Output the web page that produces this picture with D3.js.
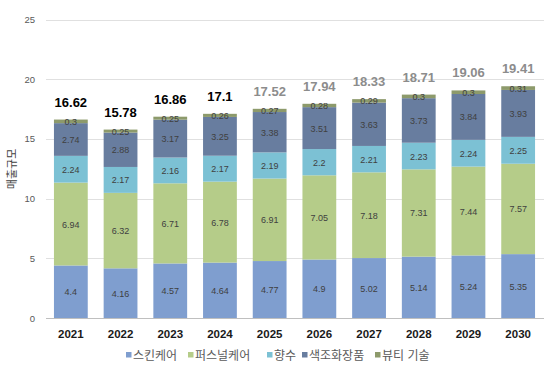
<!DOCTYPE html>
<html>
<head>
<meta charset="utf-8">
<script src="https://cdn.jsdelivr.net/npm/d3@7"></script>
<style>
  body { margin: 0; background: #fff; }
  svg { display: block; font-family: "Liberation Sans", Arial, "Noto Sans CJK KR", sans-serif; }
</style>
</head>
<body>
<div id="chart"></div>
<script>
// 데이터
const years = ["2021", "2022", "2023", "2024", "2025", "2026", "2027", "2028", "2029", "2030"];
const seriesNames = ["스킨케어", "퍼스널케어", "향수", "색조화장품", "뷰티 기술"];
const skincare = [4.4, 4.16, 4.57, 4.64, 4.77, 4.9, 5.02, 5.14, 5.24, 5.35];
const personalCare = [6.94, 6.32, 6.71, 6.78, 6.91, 7.05, 7.18, 7.31, 7.44, 7.57];
const fragrance = [2.24, 2.17, 2.16, 2.17, 2.19, 2.2, 2.21, 2.23, 2.24, 2.25];
const colorCosmetics = [2.74, 2.88, 3.17, 3.25, 3.38, 3.51, 3.63, 3.73, 3.84, 3.93];
const beautyTech = [0.3, 0.25, 0.25, 0.26, 0.27, 0.28, 0.29, 0.3, 0.3, 0.31];
const totals = [16.62, 15.78, 16.86, 17.1, 17.52, 17.94, 18.33, 18.71, 19.06, 19.41];
const forecastFrom = "2025"; // 전망치는 회색
const yTicks = [0, 5, 10, 15, 20, 25];

const colors = ["#7f9ecf", "#b5cc89", "#7cc1d4", "#687d9f", "#8d9a6b"];

const width = 547, height = 372;

const svg = d3.select("#chart").append("svg")
    .attr("width", width)
    .attr("height", height);

const x = d3.scaleBand()
    .domain(years)
    .range([46, 543])
    .paddingInner(0.32)
    .paddingOuter(0.16);

const y = d3.scaleLinear()
    .domain([0, 25])
    .range([318, 19.5]);

// 그리드
svg.append("g")
    .selectAll("line")
    .data(yTicks)
    .join("line")
    .attr("x1", 46).attr("x2", 544)
    .attr("y1", d => Math.round(y(d)) + 0.5)
    .attr("y2", d => Math.round(y(d)) + 0.5)
    .attr("stroke", d => d === 0 ? "#bfbfbf" : "#e0e0e0")
    .attr("stroke-width", 1);

// y축 라벨
svg.append("g")
    .selectAll("text")
    .data(yTicks)
    .join("text")
    .attr("x", 35)
    .attr("y", d => y(d) + 3.5)
    .attr("text-anchor", "end")
    .attr("font-size", 9.5)
    .attr("fill", "#595959")
    .text(d => d);

svg.append("text")
    .attr("transform", `translate(16,169) rotate(-90)`)
    .attr("text-anchor", "middle")
    .attr("font-size", 11)
    .attr("fill", "#404040")
    .text("매출규모");

// 스택 데이터
const rows = years.map((yr, i) => ({
    year: yr,
    "스킨케어": skincare[i],
    "퍼스널케어": personalCare[i],
    "향수": fragrance[i],
    "색조화장품": colorCosmetics[i],
    "뷰티 기술": beautyTech[i]
}));

const stacked = d3.stack().keys(seriesNames)(rows);

const layers = svg.append("g")
    .selectAll("g")
    .data(stacked)
    .join("g")
    .attr("fill", (d, i) => colors[i]);

layers.selectAll("rect")
    .data(d => d)
    .join("rect")
    .attr("x", d => x(d.data.year))
    .attr("width", x.bandwidth())
    .attr("y", d => y(d[1]))
    .attr("height", d => y(d[0]) - y(d[1]));

// 값 라벨
const labels = svg.append("g")
    .attr("font-size", 9)
    .attr("fill", "#404040")
    .attr("text-anchor", "middle");

stacked.forEach(layer => {
    labels.selectAll(null)
        .data(layer)
        .join("text")
        .attr("x", d => x(d.data.year) + x.bandwidth() / 2)
        .attr("y", d => (y(d[0]) + y(d[1])) / 2 + 3.5)
        .text(d => d.data[layer.key]);
});

// 합계
svg.append("g")
    .selectAll("text")
    .data(totals)
    .join("text")
    .attr("x", (d, i) => x(years[i]) + x.bandwidth() / 2)
    .attr("y", d => y(d) - 13)
    .attr("text-anchor", "middle")
    .attr("font-size", 13)
    .attr("font-weight", "bold")
    .attr("fill", (d, i) => years[i] >= forecastFrom ? "#8c8c8c" : "#000")
    .text(d => d);

// x축 라벨
svg.append("g")
    .selectAll("text")
    .data(years)
    .join("text")
    .attr("x", d => x(d) + x.bandwidth() / 2)
    .attr("y", 338)
    .attr("text-anchor", "middle")
    .attr("font-size", 11.5)
    .attr("font-weight", "bold")
    .attr("fill", "#1a1a1a")
    .text(d => d);

// 범례
const legendX = [126, 188, 267, 302, 375];
const legend = svg.append("g")
    .selectAll("g")
    .data(seriesNames)
    .join("g")
    .attr("transform", (d, i) => `translate(${legendX[i]},355)`);

legend.append("rect")
    .attr("x", 0).attr("y", -3)
    .attr("width", 5.5).attr("height", 5.5)
    .attr("fill", (d, i) => colors[i]);

legend.append("text")
    .attr("x", 7)
    .attr("y", 4.5)
    .attr("font-size", 12)
    .attr("fill", "#595959")
    .text(d => d);
</script>
</body>
</html>
